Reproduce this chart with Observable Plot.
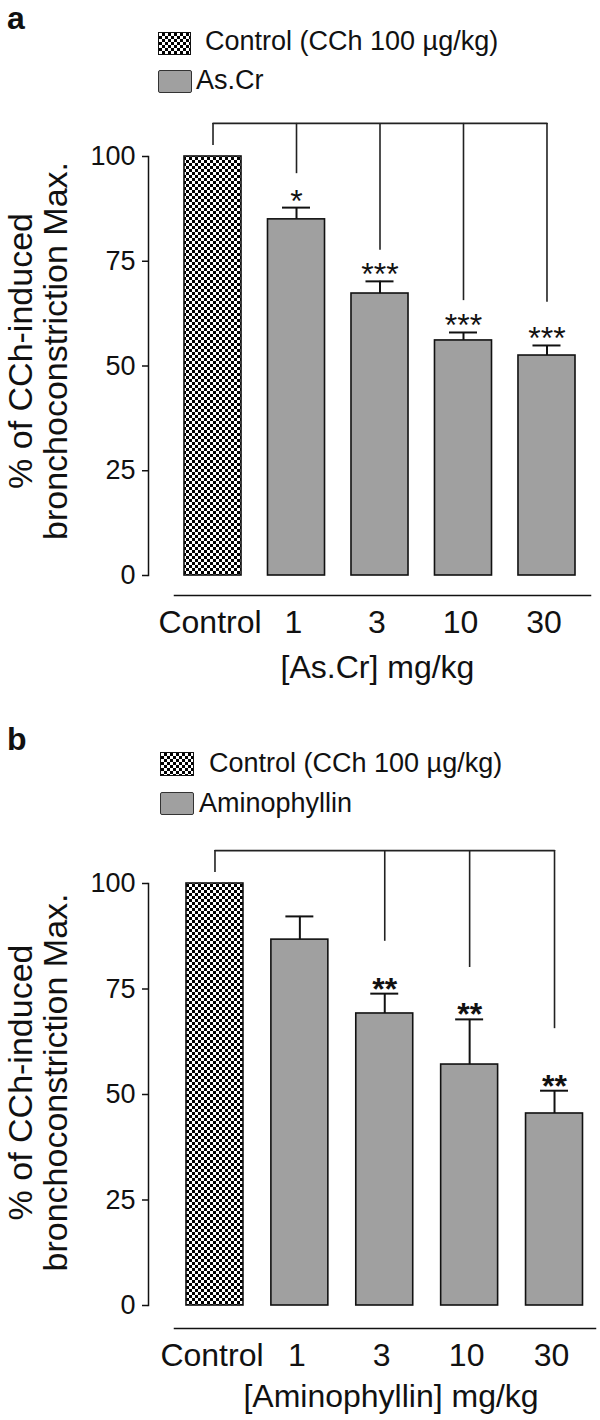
<!DOCTYPE html>
<html><head><meta charset="utf-8">
<script src="https://cdn.jsdelivr.net/npm/d3@7"></script>
<script src="https://cdn.jsdelivr.net/npm/@observablehq/plot@0.6"></script>
<style>
body{margin:0;background:#fff;}
#page{position:relative;width:600px;height:1420px;overflow:hidden;font-family:"Liberation Sans",Arial,Helvetica,sans-serif;color:#111;background:#fff;}
.abs{position:absolute;white-space:nowrap;line-height:1.1;}
.sw{position:absolute;box-sizing:border-box;}
.check{background:repeating-conic-gradient(#000 0 25%,#fff 0 50%) 0 0/6px 6px;border:1.5px solid #111;}
.gray{background:#a0a0a0;border:1.5px solid #333;border-radius:2px;}
</style></head>
<body><div id="page"></div>
<script>
// ---- data ----
const doses = ["Control", "1", "3", "10", "30"];
const yTicks = [0, 25, 50, 75, 100];

const asCrMean = [100, 85.0, 67.3, 56.1, 52.5];
const asCrSem = [null, 2.8, 2.9, 1.9, 2.4];
const asCrStars = ["", "*", "***", "***", "***"];
const asCrBracketEnd = [102.6, 95.9, 77.6, 65.6, 65.2];
const asCrBracketTop = 107.9;

const aminoMean = [100, 86.7, 69.2, 57.1, 45.5];
const aminoSem = [null, 5.5, 4.7, 10.7, 5.4];
const aminoStars = ["", "", "**", "**", "**"];
const aminoBracketEnd = [102.6, null, 86.3, 80.1, 65.6];
const aminoBracketTop = 107.8;

const yTitle = "% of CCh-induced\nbronchoconstriction Max.";
const controlLegend = "Control (CCh 100 \u00b5g/kg)";

const FONT = '"Liberation Sans", Arial, Helvetica, sans-serif';
const page = document.getElementById("page");

function addText(txt, left, top, size, weight) {
  const d = document.createElement("div");
  d.className = "abs";
  d.textContent = txt;
  d.style.left = left + "px"; d.style.top = top + "px";
  d.style.fontSize = size + "px";
  if (weight) d.style.fontWeight = weight;
  page.appendChild(d);
}
function addSwatch(cls, left, top, w, h) {
  const d = document.createElement("div");
  d.className = "sw " + cls;
  d.style.left = left + "px"; d.style.top = top + "px";
  d.style.width = w + "px"; d.style.height = h + "px";
  page.appendChild(d);
}

function panel(o) {
  const rows = doses.map((d, i) => ({dose: d, mean: o.mean[i], sem: o.sem[i], star: o.stars[i], end: o.end[i]}));
  const err = rows.filter(r => r.sem != null);
  const br = rows.filter(r => r.end != null);
  const starRows = rows.filter(r => r.star);
  const edge = [br[0], br[br.length - 1]];
  const svg = Plot.plot({
    width: 600, height: o.height,
    marginLeft: 148, marginRight: o.marginRight, marginTop: o.marginTop, marginBottom: o.marginBottom,
    style: {fontFamily: FONT, background: "transparent", overflow: "visible", color: "#111"},
    x: {type: "band", domain: doses, range: o.xRange, paddingInner: o.paddingInner, paddingOuter: 0, axis: null, round: false},
    y: {domain: [0, 100], axis: null},
    marks: [
      Plot.barY(rows.filter(r => r.dose === "Control"), {x: "dose", y: "mean", fill: `url(#${o.id})`, stroke: "#111", strokeWidth: 1.6}),
      Plot.barY(rows.filter(r => r.dose !== "Control"), {x: "dose", y: "mean", fill: "#a0a0a0", stroke: "#111", strokeWidth: 1.6}),
      Plot.ruleX(err, {x: "dose", y1: "mean", y2: r => r.mean + r.sem, stroke: "#111", strokeWidth: 2}),
      Plot.tickY(err, {x: "dose", y: r => r.mean + r.sem, insetLeft: 14.5, insetRight: 14.5, stroke: "#111", strokeWidth: 2}),
      Plot.ruleX(br, {x: "dose", y1: "end", y2: () => o.top, stroke: "#222", strokeWidth: 1.6}),
      Plot.line(edge, {x: "dose", y: () => o.top, stroke: "#222", strokeWidth: 1.6}),
      Plot.text(starRows, {x: "dose", y: r => r.mean + r.sem, text: "star", lineAnchor: "bottom", dy: o.starDy, fontSize: 32, fontWeight: o.starWeight, fill: "#111"}),
      Plot.frame({anchor: "left", stroke: "#111", strokeWidth: 1.5}),
      Plot.axisY(yTicks, {tickSize: 6, tickPadding: 7, fontSize: 27, label: null, stroke: "#111", strokeWidth: 1.5, fill: "#111"}),
      Plot.frame({anchor: "bottom", insetBottom: -o.lineGap, insetLeft: 26, stroke: "#111", strokeWidth: 1.5}),
      Plot.text(doses, {x: d => d, text: d => d, frameAnchor: "bottom", lineAnchor: "bottom", dy: o.tickDy, dx: -3, fontSize: 32, fill: "#111"}),
      Plot.text([o.xTitle], {text: d => d, frameAnchor: "bottom", lineAnchor: "bottom", dy: o.titleDy, dx: o.titleDx, fontSize: 32, fill: "#111"}),
      Plot.text([yTitle], {text: d => d, frameAnchor: "left", textAnchor: "middle", lineAnchor: "middle", rotate: -90, dx: -110, dy: o.yTitleDy, fontSize: 34, lineHeight: 1.03, fill: "#111"})
    ]
  });
  const defs = d3.select(svg).insert("defs", ":first-child");
  const p = defs.append("pattern").attr("id", o.id).attr("patternUnits", "userSpaceOnUse").attr("width", 6).attr("height", 6);
  p.append("rect").attr("width", 6).attr("height", 6).attr("fill", "#fff");
  p.append("rect").attr("width", 3).attr("height", 3).attr("fill", "#000");
  p.append("rect").attr("x", 3).attr("y", 3).attr("width", 3).attr("height", 3).attr("fill", "#000");
  svg.style.position = "absolute";
  svg.style.left = "0px";
  svg.style.top = o.svgTop + "px";
  page.appendChild(svg);
}

// Panel a
addText("a", 7, 1, 32, "bold");
addSwatch("check", 158, 32, 33, 23);
addText(controlLegend, 205, 27, 27);
addSwatch("gray", 158, 70, 34, 23);
addText("As.Cr", 196, 66, 27);
panel({id: "chkA", mean: asCrMean, sem: asCrSem, stars: asCrStars, end: asCrBracketEnd, top: asCrBracketTop,
  xTitle: "[As.Cr] mg/kg", svgTop: 100, height: 600, marginTop: 56, marginBottom: 125, marginRight: 10,
  xRange: [184, 575], paddingInner: 0.317, lineGap: 20, tickDy: 57, titleDy: 102, titleDx: 8, yTitleDy: -15,
  starDy: 4, starWeight: "normal"});

// Panel b
addText("b", 7, 722, 32, "bold");
addSwatch("check", 160, 752, 34, 24);
addText(controlLegend, 209, 749, 27);
addSwatch("gray", 160, 792, 34, 23);
addText("Aminophyllin", 199, 789, 27);
panel({id: "chkB", mean: aminoMean, sem: aminoSem, stars: aminoStars, end: aminoBracketEnd, top: aminoBracketTop,
  xTitle: "[Aminophyllin] mg/kg", svgTop: 830, height: 590, marginTop: 53, marginBottom: 115, marginRight: 5,
  xRange: [186, 582.5], paddingInner: 0.329, lineGap: 23, tickDy: 60, titleDy: 101, titleDx: 19, yTitleDy: -12,
  starDy: 6, starWeight: "bold"});
</script>
</body></html>
